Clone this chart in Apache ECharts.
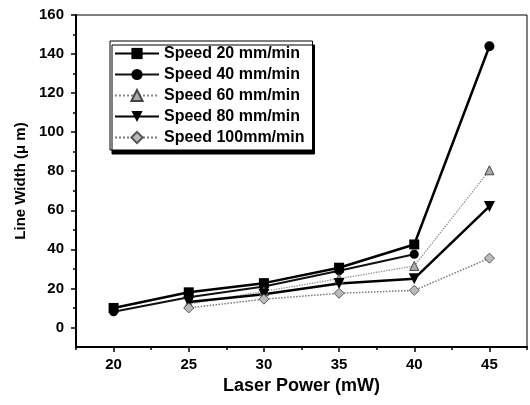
<!DOCTYPE html>
<html><head><meta charset="utf-8">
<script src="https://cdn.jsdelivr.net/npm/echarts@6/dist/echarts.min.js"></script>
<style>html,body{margin:0;padding:0;background:#fff}#c{width:530px;height:405px}</style>
</head><body><div id="c"></div>
<script>
const power = [20, 25, 30, 35, 40, 45];
const speed20 = [10, 18, 22.7, 30.6, 42.5, 144];
const speed40 = [8, 15.5, 21, 29, 37.5, null];
const speed60 = [null, 12, 18.5, 25, 31.5, 80.5];
const speed80 = [null, 13, 17, 22.5, 25, 62];
const speed100 = [null, 10, 14.5, 17.5, 19, 35.5];
const yTicks = [0, 20, 40, 60, 80, 100, 120, 140, 160];
const yMinor = [10, 30, 50, 70, 90, 110, 130, 150];
const xTicks = [20, 25, 30, 35, 40, 45];
const xMinor = [17.5, 22.5, 27.5, 32.5, 37.5, 42.5, 47.5];
const names = ['Speed 20 mm/min','Speed 40 mm/min','Speed 60 mm/min','Speed 80 mm/min','Speed 100mm/min'];

function pairs(arr){ return power.map((x,i)=>[x,arr[i]]).filter(p=>p[1]!==null); }
const F = 'Liberation Sans, Arial, sans-serif';
const chart = echarts.init(document.getElementById('c'));
const s20 = pairs(speed20).map((p,i,a)=> i===a.length-1 ? {value:p, symbol:'circle', symbolSize:10} : p);
chart.setOption({
  animation:false,
  backgroundColor:'#fff',
  grid:{left:76, right:3, top:15, bottom:58, show:true, borderColor:'#000', borderWidth:1},
  legend:{
    orient:'vertical', left:110, top:41, data:names,
    backgroundColor:'#fff', borderColor:'#000', borderWidth:1,
    shadowColor:'#000', shadowOffsetX:2, shadowOffsetY:4, shadowBlur:0,
    padding:[4,8,4,4], itemWidth:44, itemHeight:14, itemGap:4,
    textStyle:{fontFamily:F, fontWeight:'bold', fontSize:16, lineHeight:17, color:'#000'}
  },
  xAxis:[{
    type:'value', min:17.5, max:47.5,
    name:'Laser Power (mW)', nameLocation:'middle', nameGap:30,
    nameTextStyle:{fontFamily:F, fontWeight:'bold', fontSize:18, color:'#000'},
    axisLine:{show:true, onZero:false, lineStyle:{color:'#000', width:2}},
    axisTick:{show:true, length:5, customValues:xTicks, lineStyle:{color:'#000', width:1.5}},
    axisLabel:{customValues:xTicks, margin:10, fontFamily:F, fontWeight:'bold', fontSize:15, color:'#000'},
    splitLine:{show:false}
  },{
    type:'value', min:17.5, max:47.5, position:'bottom',
    axisLine:{show:false, onZero:false}, axisLabel:{show:false}, splitLine:{show:false},
    axisTick:{show:true, length:3, customValues:xMinor, lineStyle:{color:'#000', width:1.5}}
  }],
  yAxis:[{
    type:'value', min:-10, max:160,
    name:'Line Width (\u03bc m)', nameLocation:'middle', nameGap:46,
    nameTextStyle:{fontFamily:F, fontWeight:'bold', fontSize:15, color:'#000'},
    axisLine:{show:true, onZero:false, lineStyle:{color:'#000', width:2}},
    axisTick:{show:true, length:5, customValues:yTicks, lineStyle:{color:'#000', width:1.5}},
    axisLabel:{customValues:yTicks, margin:12, fontFamily:F, fontWeight:'bold', fontSize:15, color:'#000'},
    splitLine:{show:false}
  },{
    type:'value', min:-10, max:160, position:'left',
    axisLine:{show:false, onZero:false}, axisLabel:{show:false}, splitLine:{show:false},
    axisTick:{show:true, length:3, customValues:yMinor, lineStyle:{color:'#000', width:1.5}}
  }],
  series:[
    {name:names[0], type:'line', data:s20, symbol:'rect', symbolSize:10,
     lineStyle:{color:'#000', width:2.5}, itemStyle:{color:'#000'}},
    {name:names[1], type:'line', data:pairs(speed40), symbol:'circle', symbolSize:9,
     lineStyle:{color:'#111', width:2}, itemStyle:{color:'#000'}},
    {name:names[2], type:'line', data:pairs(speed60), symbol:'triangle', symbolSize:9,
     lineStyle:{color:'#888', width:1.3, type:'dotted'}, itemStyle:{color:'#aaa', borderColor:'#444', borderWidth:1}},
    {name:names[3], type:'line', data:pairs(speed80), symbol:'triangle', symbolRotate:180, symbolSize:11,
     lineStyle:{color:'#000', width:2.5}, itemStyle:{color:'#000'}},
    {name:names[4], type:'line', data:pairs(speed100), symbol:'diamond', symbolSize:10,
     lineStyle:{color:'#777', width:1.5, type:'dotted'}, itemStyle:{color:'#bbb', borderColor:'#555', borderWidth:1}}
  ]
});
</script></body></html>
